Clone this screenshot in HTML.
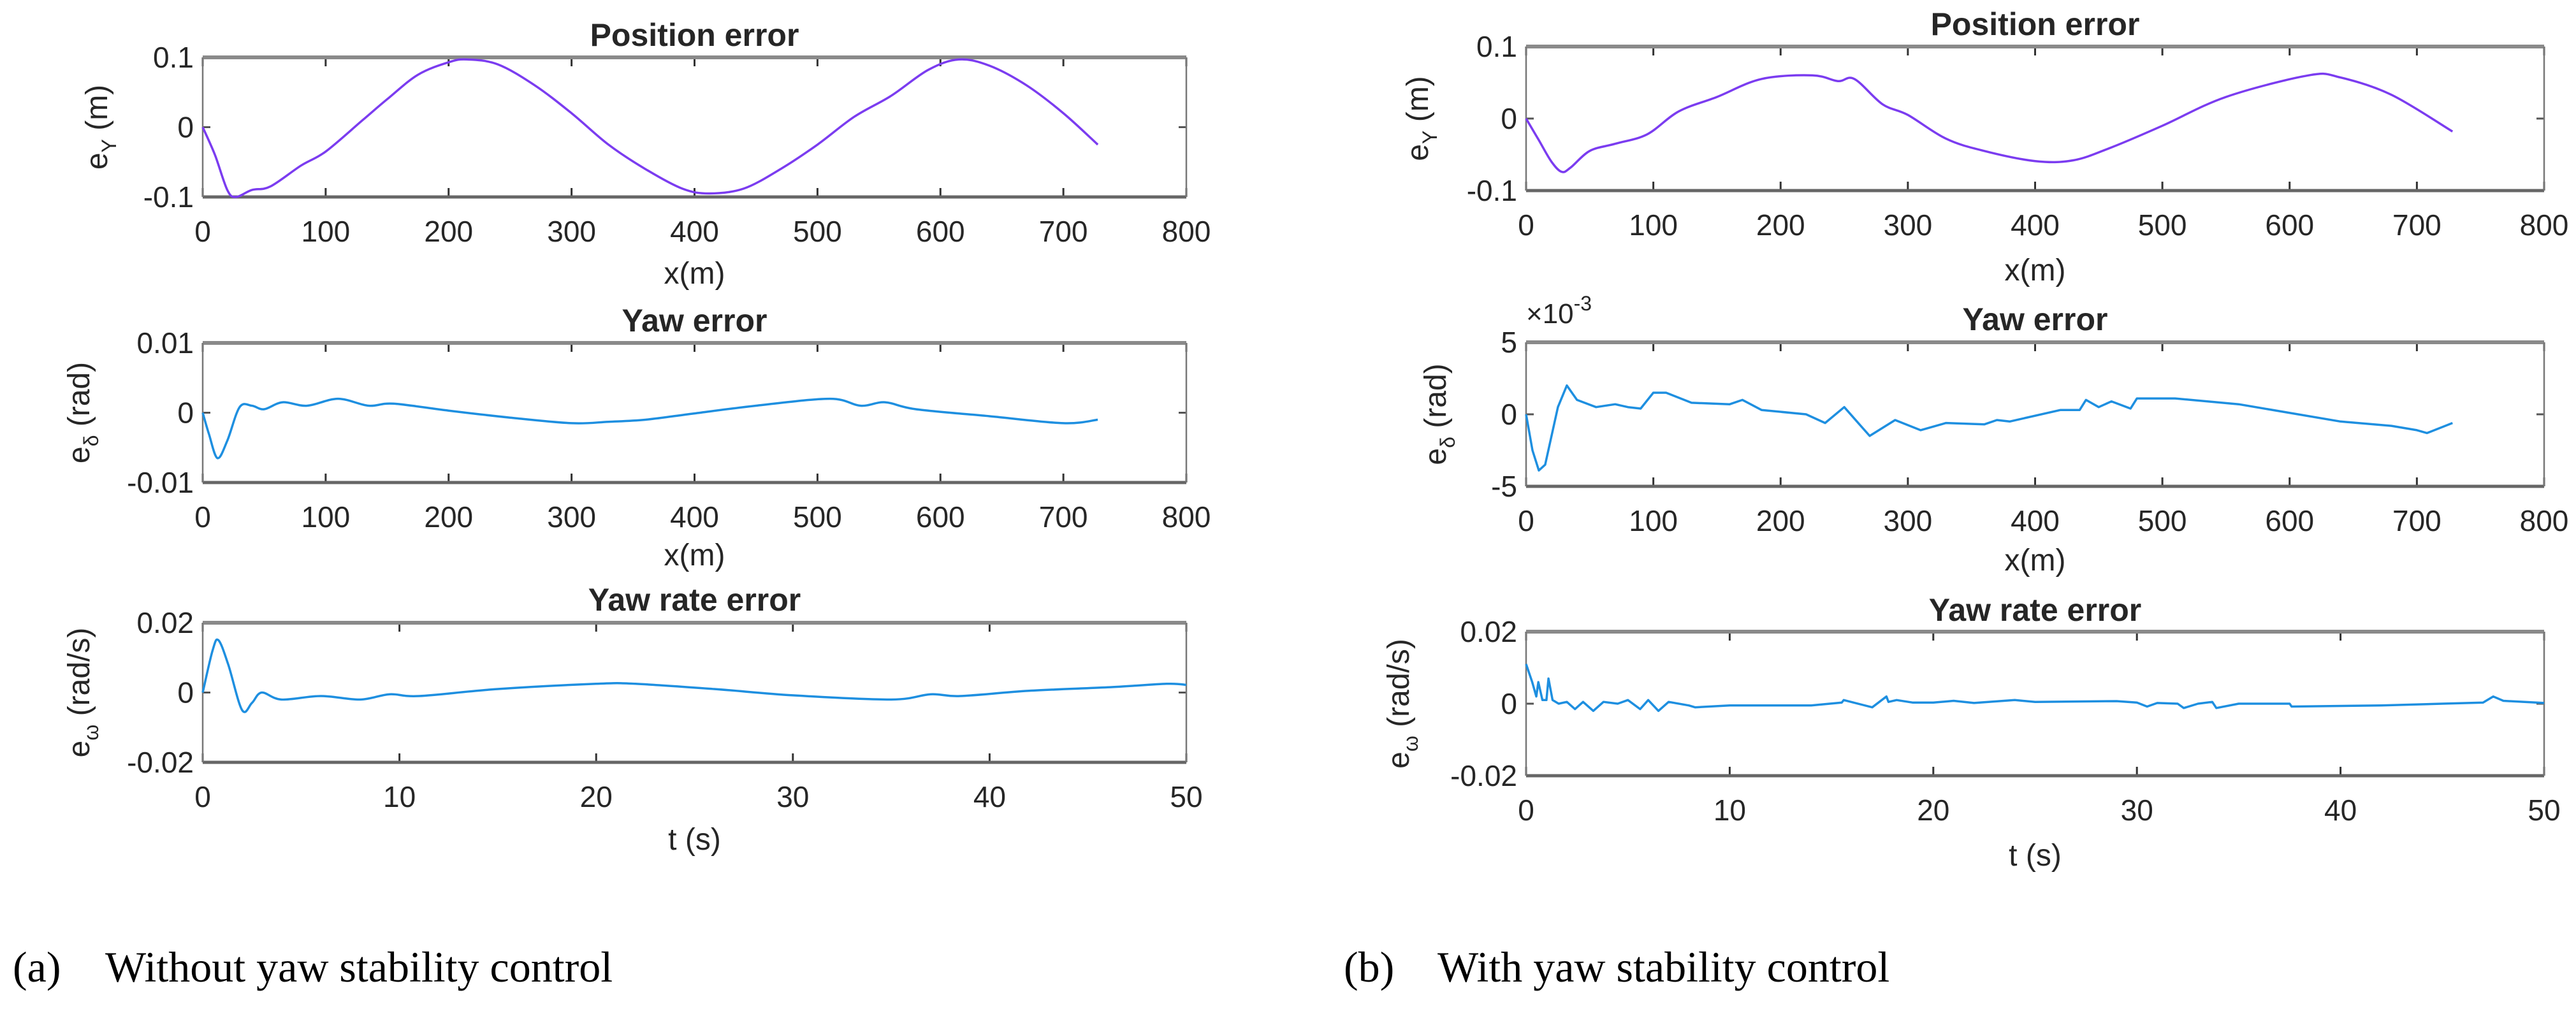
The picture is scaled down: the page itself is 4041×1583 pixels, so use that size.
<!DOCTYPE html>
<html><head><meta charset="utf-8"><style>
html,body{margin:0;padding:0;background:#fff;}
svg{display:block;}
text{font-family:"Liberation Sans",sans-serif;fill:#262626;}
.cap{font-family:"Liberation Serif",serif;fill:#000;}
</style></head><body>
<svg id="fig" width="4041" height="1583" viewBox="0 0 4041 1583" xmlns="http://www.w3.org/2000/svg">
<rect x="0" y="0" width="4041" height="1583" fill="#fff"/>
<g id="root"></g>
<text class="cap" x="20" y="1540" font-size="68">(a)</text>
<text class="cap" x="165" y="1540" font-size="68">Without yaw stability control</text>
<text class="cap" x="2108" y="1540" font-size="68">(b)</text>
<text class="cap" x="2255" y="1540" font-size="68">With yaw stability control</text>
</svg>
<script>
// ---- data ----
const aPosX=[0,10,20,27,40,55,80,100,130,150,175,200,215,240,270,300,330,360,390,412,440,470,500,530,560,590,615,640,670,700,728];
const aPosY=[0,-0.04,-0.09,-0.1,-0.09,-0.085,-0.055,-0.035,0.01,0.04,0.075,0.093,0.097,0.09,0.06,0.02,-0.025,-0.06,-0.088,-0.095,-0.088,-0.06,-0.025,0.015,0.045,0.082,0.097,0.088,0.06,0.02,-0.025];
const aYawX=[0,5,12,20,30,40,50,65,85,110,135,155,200,250,300,330,360,400,450,510,535,555,580,640,700,728];
const aYawY=[0,-0.003,-0.0065,-0.004,0.0008,0.001,0.0005,0.0015,0.001,0.002,0.001,0.0013,0.0003,-0.0007,-0.0015,-0.0013,-0.001,-0.0001,0.001,0.002,0.001,0.0015,0.0005,-0.0005,-0.0015,-0.001];
const aRateT=[0,0.5,0.8,1.3,2,2.5,3,4,6,8,9.5,11,15,20,22,26,30,35,37,38.5,42,46,49,50];
const aRateY=[0,0.012,0.015,0.008,-0.005,-0.003,0,-0.002,-0.001,-0.002,-0.0005,-0.001,0.001,0.0025,0.0025,0.001,-0.0008,-0.002,-0.0005,-0.001,0.0005,0.0015,0.0025,0.0022];
const bPosX=[0,10,20,28,35,50,70,95,120,150,185,225,245,258,280,300,330,360,400,430,460,500,550,615,640,680,728];
const bPosY=[0,-0.03,-0.06,-0.074,-0.068,-0.045,-0.035,-0.022,0.01,0.03,0.055,0.06,0.052,0.055,0.02,0.005,-0.028,-0.045,-0.059,-0.058,-0.04,-0.01,0.03,0.06,0.057,0.033,-0.018];
const bYawX=[0,5,10,15,25,32,40,55,70,80,90,100,110,130,160,170,185,220,235,250,260,270,290,310,330,360,370,380,420,435,440,450,460,475,480,510,560,640,680,700,708,728];
const bYawY=[0,-2.5,-3.9,-3.5,0.5,2,1,0.5,0.7,0.5,0.4,1.5,1.5,0.8,0.7,1,0.3,0,-0.6,0.5,-0.5,-1.5,-0.4,-1.1,-0.6,-0.7,-0.4,-0.5,0.3,0.3,1,0.5,0.9,0.4,1.1,1.1,0.7,-0.5,-0.8,-1.1,-1.3,-0.6];
const bRateT=[0,0.3,0.5,0.6,0.8,1.0,1.1,1.3,1.6,2,2.4,2.8,3.3,3.8,4.5,5,5.6,6,6.5,7,8,8.3,10,14,15.5,15.6,17,17.7,17.8,18.2,19,20,21,22,24,25,29,30,30.5,31,32,32.3,33,33.7,33.9,35,37.5,37.6,42,45,47,47.5,48,50];
const bRateY=[0.011,0.006,0.002,0.006,0.001,0.001,0.007,0.001,0,0.0005,-0.0015,0.0005,-0.002,0.0005,0,0.001,-0.0015,0.001,-0.002,0.0005,-0.0005,-0.001,-0.0005,-0.0005,0.0003,0.001,-0.001,0.002,0.0005,0.001,0.0003,0.0003,0.0008,0.0002,0.001,0.0005,0.0007,0.0003,-0.0008,0.0002,0,-0.0012,0,0.0005,-0.0012,0,0,-0.0008,-0.0005,0,0.0003,0.002,0.0008,0.0002];
const xTicksM=[0,100,200,300,400,500,600,700,800];
const xTicksT=[0,10,20,30,40,50];

const NS="http://www.w3.org/2000/svg";
const root=document.getElementById('root');
function mk(tag,attrs,parent,txt){const e=document.createElementNS(NS,tag);for(const k in attrs)e.setAttribute(k,attrs[k]);if(txt!==undefined)e.textContent=txt;(parent||root).appendChild(e);return e;}

function pathD(pts,smooth){
  if(!smooth){return pts.map((p,i)=>(i?'L':'M')+p[0].toFixed(1)+','+p[1].toFixed(1)).join('');}
  let d='M'+pts[0][0].toFixed(1)+','+pts[0][1].toFixed(1);
  for(let i=0;i<pts.length-1;i++){
    const p0=pts[Math.max(i-1,0)],p1=pts[i],p2=pts[i+1],p3=pts[Math.min(i+2,pts.length-1)];
    const c1=[p1[0]+(p2[0]-p0[0])/6,p1[1]+(p2[1]-p0[1])/6];
    const c2=[p2[0]-(p3[0]-p1[0])/6,p2[1]-(p3[1]-p1[1])/6];
    d+='C'+c1[0].toFixed(1)+','+c1[1].toFixed(1)+' '+c2[0].toFixed(1)+','+c2[1].toFixed(1)+' '+p2[0].toFixed(1)+','+p2[1].toFixed(1);
  }
  return d;
}

function plot(o){
  const g=mk('g',{});
  
  
  const sx=v=>o.L+(v-o.xmin)/(o.xmax-o.xmin)*(o.R-o.L);
  const sy=v=>o.B-(v-o.ymin)/(o.ymax-o.ymin)*(o.B-o.T);
  mk('rect',{x:o.L,y:o.T,width:o.R-o.L,height:o.B-o.T,fill:'#fff'},g);
  o.xt.forEach(v=>{const x=sx(v);
    mk('line',{x1:x,x2:x,y1:o.B,y2:o.B-14,stroke:'#333','stroke-width':3},g);
    mk('line',{x1:x,x2:x,y1:o.T,y2:o.T+14,stroke:'#333','stroke-width':3},g);
    const t=mk('text',{x:x,y:o.B+70,'font-size':46,'text-anchor':'middle'},g,String(v));
    
    
  });
  o.yt.forEach((v,i)=>{const y=sy(v);
    mk('line',{x1:o.L,x2:o.L+12,y1:y,y2:y,stroke:'#555','stroke-width':3},g);
    mk('line',{x1:o.R,x2:o.R-12,y1:y,y2:y,stroke:'#555','stroke-width':3},g);
    const t=mk('text',{x:o.L-14,y:y+16,'font-size':46,'text-anchor':'end'},g,o.ytl[i]);
    
    
  });
  mk('line',{x1:o.L,x2:o.R,y1:o.T,y2:o.T,stroke:'#8a8a8a','stroke-width':6},g);
  mk('line',{x1:o.L,x2:o.R,y1:o.B,y2:o.B,stroke:'#666','stroke-width':5},g);
  mk('line',{x1:o.L,x2:o.L,y1:o.T,y2:o.B,stroke:'#777','stroke-width':2.5},g);
  mk('line',{x1:o.R,x2:o.R,y1:o.T,y2:o.B,stroke:'#777','stroke-width':2.5},g);
  const pts=o.xs.map((v,i)=>[sx(v),sy(o.ys[i])]);
  const p=mk('path',{d:pathD(pts,o.smooth),fill:'none',stroke:o.color,'stroke-width':3.5,'stroke-linejoin':'round'},g);
  
  
  const tt=mk('text',{x:(o.L+o.R)/2,y:o.titleY,'font-size':50,'font-weight':'bold','text-anchor':'middle',fill:'#000'},g,o.title);
  
  
  const xl=mk('text',{x:(o.L+o.R)/2,y:o.xlabY,'font-size':48,'text-anchor':'middle'},g,o.xlab);
  
  
  const yl=mk('text',{x:0,y:0,'font-size':48,'text-anchor':'middle',transform:'translate('+o.ylabX+','+((o.T+o.B)/2)+') rotate(-90)'},g);
  
  
  mk('tspan',{},yl,'e');
  mk('tspan',{dy:14,'font-size':32},yl,o.sub);
  mk('tspan',{dy:-14,'font-size':48},yl,' ('+o.unit+')');
  if(o.exp){const e=mk('text',{x:o.L,y:o.T-30,'font-size':44},g,'×10');mk('tspan',{dy:-20,'font-size':32},e,'-3');
    
    }
}
const P='#7b3cf0',B='#1e8fe0';
plot({name:'a-position-error',L:318,R:1861,T:90,B:309,xmin:0,xmax:800,ymin:-0.1,ymax:0.1,xt:xTicksM,yt:[-0.1,0,0.1],ytl:['-0.1','0','0.1'],xs:aPosX,ys:aPosY,color:P,smooth:true,title:'Position error',titleY:72,xlab:'x(m)',xlabY:445,ylabX:168,sub:'Y',unit:'m'});
plot({name:'a-yaw-error',L:318,R:1861,T:538,B:757,xmin:0,xmax:800,ymin:-0.01,ymax:0.01,xt:xTicksM,yt:[-0.01,0,0.01],ytl:['-0.01','0','0.01'],xs:aYawX,ys:aYawY,color:B,smooth:true,title:'Yaw error',titleY:520,xlab:'x(m)',xlabY:887,ylabX:140,sub:'δ',unit:'rad'});
plot({name:'a-yaw-rate-error',L:318,R:1861,T:977,B:1196,xmin:0,xmax:50,ymin:-0.02,ymax:0.02,xt:xTicksT,yt:[-0.02,0,0.02],ytl:['-0.02','0','0.02'],xs:aRateT,ys:aRateY,color:B,smooth:true,title:'Yaw rate error',titleY:958,xlab:'t (s)',xlabY:1333,ylabX:140,sub:'ω',unit:'rad/s'});
plot({name:'b-position-error',L:2394,R:3991,T:73,B:299,xmin:0,xmax:800,ymin:-0.1,ymax:0.1,xt:xTicksM,yt:[-0.1,0,0.1],ytl:['-0.1','0','0.1'],xs:bPosX,ys:bPosY,color:P,smooth:true,title:'Position error',titleY:55,xlab:'x(m)',xlabY:440,ylabX:2240,sub:'Y',unit:'m'});
plot({name:'b-yaw-error',L:2394,R:3991,T:537,B:763,xmin:0,xmax:800,ymin:-5,ymax:5,xt:xTicksM,yt:[-5,0,5],ytl:['-5','0','5'],xs:bYawX,ys:bYawY,color:B,smooth:false,title:'Yaw error',titleY:518,xlab:'x(m)',xlabY:895,ylabX:2268,sub:'δ',unit:'rad',exp:true});
plot({name:'b-yaw-rate-error',L:2394,R:3991,T:991,B:1217,xmin:0,xmax:50,ymin:-0.02,ymax:0.02,xt:xTicksT,yt:[-0.02,0,0.02],ytl:['-0.02','0','0.02'],xs:bRateT,ys:bRateY,color:B,smooth:false,title:'Yaw rate error',titleY:974,xlab:'t (s)',xlabY:1358,ylabX:2210,sub:'ω',unit:'rad/s'});
</script>
</body></html>
